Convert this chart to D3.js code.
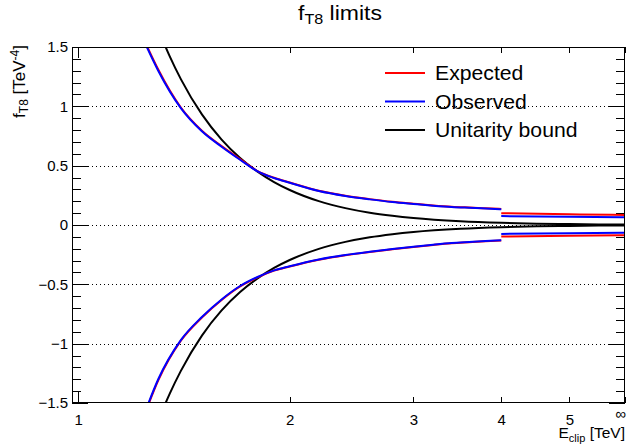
<!DOCTYPE html>
<html lang="en">
<head>
  <meta charset="UTF-8">
  <title>fT8 limits</title>
  <script src="https://d3js.org/d3.v7.min.js" charset="utf-8"></script>
  <style>
    body { margin: 0; background: #fff; }
    text { font-family: "Liberation Sans", Arial, sans-serif; fill: #000; }
    .axis path { display: none; }
    .axis line { stroke: #000; shape-rendering: crispEdges; }
  </style>
</head>
<body>
<div class="div1"></div>
<script>
  // E_clip values [TeV] and limits
  var energies = [1.25, 1.3, 1.4, 1.5, 1.6, 1.7, 1.8, 1.9, 2.0, 2.2, 2.4, 2.6, 2.8, 3.0, 3.2, 3.4, 3.6, 3.8, 4.0]
  var expUpper = [1.52, 1.31, 0.99, 0.795, 0.665, 0.555, 0.455, 0.398, 0.358, 0.289, 0.247, 0.218, 0.195, 0.179, 0.165, 0.154, 0.147, 0.141, 0.135]
  var obsUpper = [1.51, 1.30, 0.985, 0.79, 0.66, 0.55, 0.452, 0.396, 0.356, 0.287, 0.245, 0.216, 0.193, 0.177, 0.163, 0.152, 0.145, 0.139, 0.133]
  var expLower = [-1.56, -1.31, -0.975, -0.78, -0.632, -0.518, -0.441, -0.384, -0.349, -0.292, -0.254, -0.227, -0.205, -0.185, -0.168, -0.154, -0.145, -0.137, -0.130]
  var obsLower = [-1.55, -1.30, -0.97, -0.775, -0.627, -0.514, -0.438, -0.382, -0.347, -0.290, -0.252, -0.225, -0.203, -0.183, -0.166, -0.152, -0.143, -0.135, -0.128]

  // beyond 4 TeV up to infinity
  var energiesHigh = [4.0, 5.0, 6.0]
  var expUpperHigh = [0.100, 0.090, 0.085]
  var obsUpperHigh = [0.075, 0.069, 0.066]
  var expLowerHigh = [-0.097, -0.090, -0.087]
  var obsLowerHigh = [-0.075, -0.069, -0.066]

  // unitarity bound
  var energiesUnit = [1.30, 1.33, 1.35, 1.4, 1.5, 1.6, 1.7, 1.8, 1.9, 2.0, 2.2, 2.4, 2.6, 2.8, 3.0, 3.5, 4.0, 4.5, 5.0, 5.5, 6.0]
  var unitBound = [1.653, 1.508, 1.421, 1.229, 0.932, 0.720, 0.565, 0.450, 0.362, 0.295, 0.201, 0.142, 0.103, 0.077, 0.058, 0.031, 0.018, 0.0115, 0.0076, 0.0052, 0.0036]

  var xTicks = [1, 2, 3, 4, 5, 6]
  var xTickLabels = ['1', '2', '3', '4', '5', '\u221E']
  var yTicks = [-1.5, -1, -0.5, 0, 0.5, 1, 1.5]
  var yGrid = [-1, -0.5, 0, 0.5, 1]

  var legendNames = ['Expected', 'Observed', 'Unitarity bound']
  var legendColors = ['#ff0000', '#0000ff', '#000000']

  var width = 629
  var height = 446
  var padL = 72, padR = 625, padT = 47, padB = 403

  var svg = d3.select('.div1')
    .append('svg')
    .attr('width', width)
    .attr('height', height)

  var x = d3.scaleLog().domain([0.98, 6]).range([padL, padR])
  var y = d3.scaleLinear().domain([-1.5, 1.5]).range([padB, padT])

  svg.append('clipPath').attr('id', 'frame')
    .append('rect')
    .attr('x', padL).attr('y', padT)
    .attr('width', padR - padL).attr('height', padB - padT)

  // dotted grid
  svg.selectAll('.grid')
    .data(yGrid)
    .enter()
    .append('line')
    .attr('class', 'grid')
    .attr('x1', padL).attr('x2', padR)
    .attr('y1', d => Math.round(y(d)) + 0.5)
    .attr('y2', d => Math.round(y(d)) + 0.5)
    .attr('stroke', '#000')
    .attr('stroke-width', 1)
    .attr('stroke-dasharray', '1,3')

  // minor y ticks
  var yMinor = d3.range(-15, 16).map(d => d / 10)
  svg.append('g').attr('class', 'axis')
    .attr('transform', 'translate(' + padL + ',0)')
    .call(d3.axisLeft(y).tickValues(yMinor).tickSize(-9).tickFormat(''))
  svg.append('g').attr('class', 'axis')
    .attr('transform', 'translate(' + padR + ',0)')
    .call(d3.axisRight(y).tickValues(yMinor).tickSize(-9).tickFormat(''))

  // major y ticks
  var gy = svg.append('g').attr('class', 'axis')
    .attr('transform', 'translate(' + padL + ',0)')
    .call(d3.axisLeft(y).tickValues(yTicks).tickSize(-16).tickPadding(4).tickFormat(d3.format('~g')))
  gy.selectAll('text').attr('font-size', 15).attr('x', -4)
  svg.append('g').attr('class', 'axis')
    .attr('transform', 'translate(' + padR + ',0)')
    .call(d3.axisRight(y).tickValues(yTicks).tickSize(-16).tickFormat(''))

  // x ticks
  var gx = svg.append('g').attr('class', 'axis')
    .attr('transform', 'translate(0,' + padB + ')')
    .call(d3.axisBottom(x).tickValues(xTicks).tickSize(-6).tickPadding(11).tickFormat((d, i) => xTickLabels[i]))
  gx.selectAll('text').attr('font-size', 15)
  gx.selectAll('.tick').filter(d => d === 1).select('line').attr('y2', -11)
  gx.selectAll('.tick').filter(d => d === 6).select('text').attr('dx', -5).attr('dy', '0.3em')

  var gxTop = svg.append('g').attr('class', 'axis')
    .attr('transform', 'translate(0,' + padT + ')')
    .call(d3.axisTop(x).tickValues(xTicks).tickSize(-6).tickFormat(''))
  gxTop.selectAll('.tick').filter(d => d === 1).select('line').attr('y2', 11)

  // curves
  var line = d3.line()
    .x(d => x(d[0]))
    .y(d => y(d[1]))
    .curve(d3.curveMonotoneX)

  var plot = svg.append('g').attr('clip-path', 'url(#frame)')

  function drawCurve(xs, ys, color){
    plot.append('path')
      .datum(xs.map((e, i) => [e, ys[i]]))
      .attr('d', line)
      .attr('fill', 'none')
      .attr('stroke', color)
      .attr('stroke-width', 2)
  }

  drawCurve(energiesUnit, unitBound, '#000')
  drawCurve(energiesUnit, unitBound.map(v => -v), '#000')
  drawCurve(energies, expUpper, '#ff0000')
  drawCurve(energies, expLower, '#ff0000')
  drawCurve(energiesHigh, expUpperHigh, '#ff0000')
  drawCurve(energiesHigh, expLowerHigh, '#ff0000')
  drawCurve(energies, obsUpper, '#0000ff')
  drawCurve(energies, obsLower, '#0000ff')
  drawCurve(energiesHigh, obsUpperHigh, '#0000ff')
  drawCurve(energiesHigh, obsLowerHigh, '#0000ff')

  // frame
  svg.append('rect')
    .attr('x', padL + 0.5).attr('y', padT + 0.5)
    .attr('width', padR - padL - 1).attr('height', padB - padT - 1)
    .attr('fill', 'none')
    .attr('stroke', '#000')
    .attr('stroke-width', 1)

  // title
  var title = svg.append('text')
    .attr('transform', 'translate(340,20) scale(1.15,1)')
    .attr('text-anchor', 'middle')
    .attr('font-size', 20)
  title.append('tspan').text('f')
  title.append('tspan').attr('font-size', 14).attr('dy', 4).text('T8')
  title.append('tspan').attr('dy', -4).text(' limits')

  // y title
  var ytitle = svg.append('text')
    .attr('transform', 'translate(25,45) rotate(-90)')
    .attr('text-anchor', 'end')
    .attr('font-size', 17)
  ytitle.append('tspan').text('f')
  ytitle.append('tspan').attr('font-size', 12).attr('dy', 3).text('T8')
  ytitle.append('tspan').attr('dy', -3).text(' [TeV')
  ytitle.append('tspan').attr('font-size', 12).attr('dy', -6).text('-4')
  ytitle.append('tspan').attr('dy', 6).text(']')

  // x title
  var xtitle = svg.append('text')
    .attr('x', padR).attr('y', 438)
    .attr('text-anchor', 'end')
    .attr('font-size', 15.5)
  xtitle.append('tspan').text('E')
  xtitle.append('tspan').attr('font-size', 11).attr('dy', 4).text('clip')
  xtitle.append('tspan').attr('dy', -4).text(' [TeV]')

  // legend
  var legend = svg.selectAll('.legend')
    .data(legendNames)
    .enter()
    .append('g')
    .attr('class', 'legend')
    .attr('transform', (d, i) => 'translate(385,' + (73 + i * 28.5) + ')')
  legend.append('line')
    .attr('x1', 0).attr('x2', 40)
    .attr('stroke', (d, i) => legendColors[i])
    .attr('stroke-width', 2)
  legend.append('text')
    .attr('transform', 'translate(50,7) scale(1.06,1)')
    .attr('font-size', 20)
    .text(d => d)
</script>
</body>
</html>
